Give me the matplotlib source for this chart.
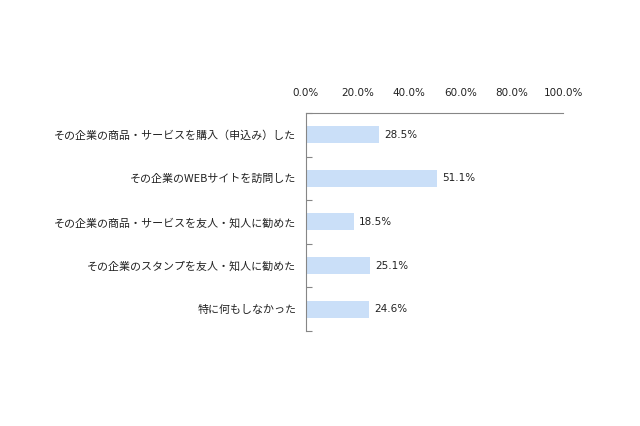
import numpy as np
import matplotlib.pyplot as plt
from matplotlib.ticker import FixedLocator

plt.rcParams['font.family'] = ['Noto Sans CJK JP', 'DejaVu Sans']

# data
categories = [
    "その企業の商品・サービスを購入（申込み）した",
    "その企業のWEBサイトを訪問した",
    "その企業の商品・サービスを友人・知人に勧めた",
    "その企業のスタンプを友人・知人に勧めた",
    "特に何もしなかった",
]
values = [28.5, 51.1, 18.5, 25.1, 24.6]
xticks = [0, 20, 40, 60, 80, 100]

BAR_COLOR = "#CADFF8"
AXIS_COLOR = "#868686"
TEXT_COLOR = "#222222"

fig = plt.figure(figsize=(6.4, 4.26), dpi=100, facecolor="white")
ax = fig.add_axes([0.478, 0.223, 0.402, 0.512])

y = np.arange(len(categories))
ax.barh(y, values, height=0.39, color=BAR_COLOR, edgecolor="none")

# value labels, numbers drawn in DejaVu Sans (wider, like the original)
for yi, v in zip(y, values):
    ax.text(v + 2.0, yi, f"{v:.1f}%", va="center", ha="left", fontsize=7.5,
            color=TEXT_COLOR, family="DejaVu Sans")

ax.set_xlim(0, 100)
ax.set_ylim(len(categories) - 0.5, -0.5)

ax.xaxis.set_ticks_position("top")
ax.set_xticks(xticks)
ax.set_xticklabels([f"{t:.1f}%" for t in xticks], fontsize=7.5, color=TEXT_COLOR,
                   family="DejaVu Sans")
ax.tick_params(axis="x", length=0, pad=11)

ax.set_yticks(y)
ax.set_yticklabels(categories, fontsize=7.9, color=TEXT_COLOR)
ax.tick_params(axis="y", which="major", length=0, pad=7)
ax.yaxis.set_minor_locator(FixedLocator(np.arange(len(categories) + 1) - 0.5))
ax.tick_params(axis="y", which="minor", direction="in", length=4, color=AXIS_COLOR, width=0.8)

for side in ["right", "bottom"]:
    ax.spines[side].set_visible(False)
for side in ["left", "top"]:
    ax.spines[side].set_color(AXIS_COLOR)
    ax.spines[side].set_linewidth(0.8)

fig.savefig("out.png", dpi=100, facecolor="white")
